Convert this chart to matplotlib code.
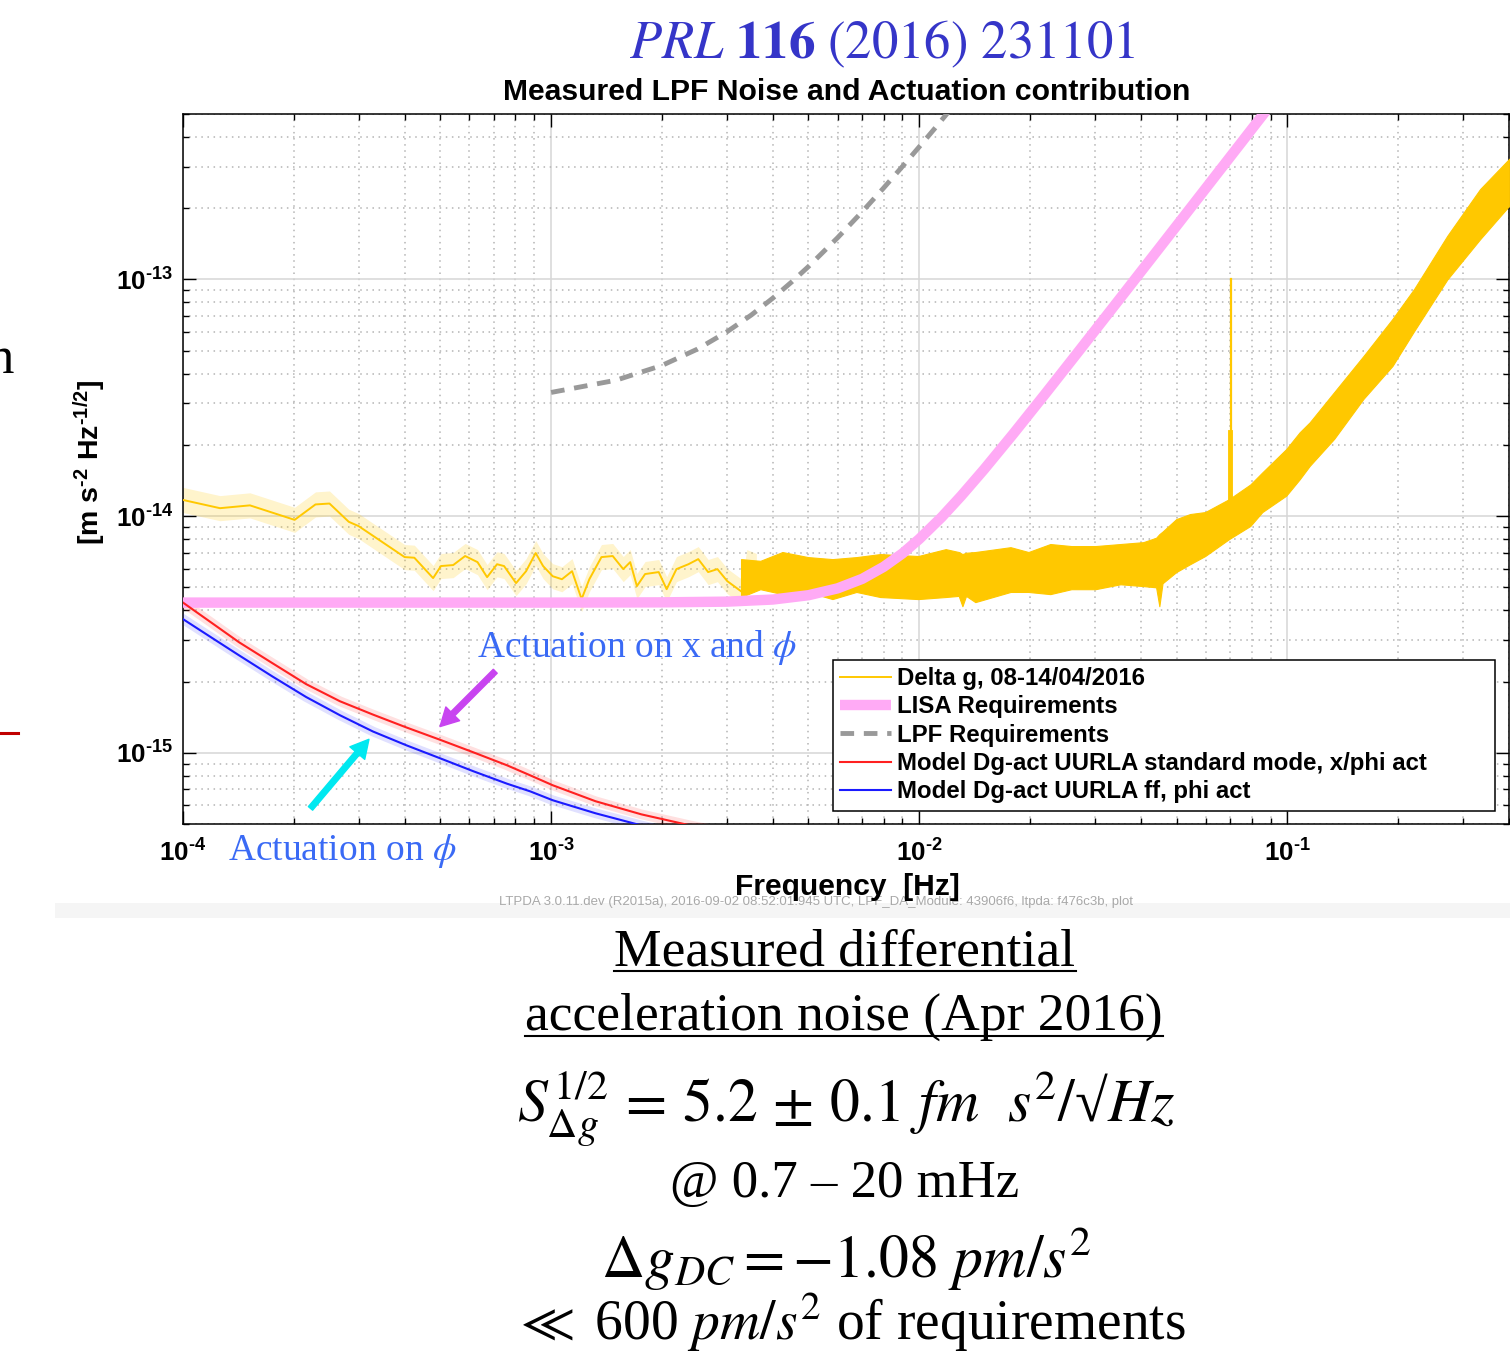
import numpy as np
import matplotlib
matplotlib.use("Agg")
import matplotlib.pyplot as plt
from matplotlib.lines import Line2D
from matplotlib.patches import Rectangle
from matplotlib.ticker import LogLocator, NullFormatter, FuncFormatter

plt.rcParams['font.family'] = ['Liberation Sans', 'DejaVu Sans']
plt.rcParams['mathtext.fontset'] = 'custom'
plt.rcParams['mathtext.rm'] = 'Liberation Sans'
plt.rcParams['mathtext.bf'] = 'Liberation Sans:bold'
plt.rcParams['mathtext.it'] = 'Liberation Sans:italic'

HY = '\u2010'  # short hyphen used in the MATLAB exponents

# --- data ----------------------------------------------------------------
# measured Delta g, low frequency part (single line with error band)
dg_f = np.array([1.00e-4, 1.26e-4, 1.52e-4, 2.01e-4, 2.29e-4, 2.50e-4, 2.82e-4, 3.00e-4,
                 4.00e-4, 4.25e-4, 4.78e-4, 5.02e-4, 5.42e-4, 5.84e-4, 6.31e-4, 6.70e-4,
                 7.13e-4, 7.45e-4, 8.03e-4, 8.55e-4, 9.08e-4, 9.51e-4, 1.01e-3, 1.07e-3,
                 1.14e-3, 1.21e-3, 1.27e-3, 1.37e-3, 1.47e-3, 1.57e-3, 1.64e-3, 1.71e-3,
                 1.80e-3, 1.96e-3, 2.06e-3, 2.19e-3, 2.36e-3, 2.51e-3, 2.67e-3, 2.83e-3,
                 3.01e-3, 3.30e-3, 3.40e-3, 3.61e-3])
dg_v = np.array([1.17e-14, 1.08e-14, 1.11e-14, 9.64e-15, 1.12e-14, 1.13e-14, 9.46e-15, 9.07e-15,
                 6.71e-15, 6.67e-15, 5.47e-15, 6.15e-15, 6.21e-15, 6.78e-15, 6.39e-15, 5.52e-15,
                 6.26e-15, 6.15e-15, 5.21e-15, 5.85e-15, 6.98e-15, 6.15e-15, 5.57e-15, 5.41e-15,
                 5.85e-15, 4.46e-15, 5.41e-15, 6.71e-15, 6.78e-15, 5.97e-15, 6.39e-15, 5.06e-15,
                 5.69e-15, 5.80e-15, 4.91e-15, 5.97e-15, 6.26e-15, 6.58e-15, 5.80e-15, 5.97e-15,
                 5.31e-15, 4.78e-15, 6.39e-15, 6.15e-15])

# measured Delta g, high frequency part (dense noisy trace: upper / lower envelope)
band_f = np.array([3.28e-3, 3.70e-3, 4.25e-3, 4.99e-3, 5.81e-3, 6.75e-3, 7.83e-3, 9.93e-3,
                   1.18e-2, 1.28e-2, 1.31e-2, 1.34e-2, 1.42e-2, 1.77e-2, 1.98e-2, 2.27e-2,
                   2.59e-2, 3.01e-2, 3.52e-2, 4.06e-2, 4.40e-2, 4.49e-2, 4.58e-2, 4.99e-2,
                   5.44e-2, 5.98e-2, 6.95e-2, 7.93e-2, 8.55e-2, 9.93e-2, 0.108, 0.115, 0.134,
                   0.161, 0.193, 0.221, 0.272, 0.334, 0.401])
band_hi = np.array([6.58e-15, 6.47e-15, 7.05e-15, 6.71e-15, 6.58e-15, 6.71e-15, 6.91e-15, 6.78e-15,
                    7.25e-15, 7.05e-15, 6.91e-15, 7.0e-15, 7.05e-15, 7.39e-15, 7.05e-15, 7.62e-15,
                    7.47e-15, 7.47e-15, 7.62e-15, 7.76e-15, 8.1e-15, 8.39e-15, 8.6e-15, 9.71e-15,
                    1.02e-14, 1.04e-14, 1.18e-14, 1.36e-14, 1.53e-14, 1.92e-14, 2.26e-14, 2.49e-14,
                    3.34e-14, 4.75e-14, 6.81e-14, 9.12e-14, 1.53e-13, 2.41e-13, 3.24e-13])
band_lo = np.array([4.55e-15, 4.91e-15, 4.68e-15, 4.78e-15, 4.46e-15, 4.78e-15, 4.55e-15, 4.46e-15,
                    4.55e-15, 4.6e-15, 4.16e-15, 4.6e-15, 4.33e-15, 4.78e-15, 4.78e-15, 4.68e-15,
                    4.91e-15, 4.91e-15, 5.15e-15, 5.06e-15, 5.0e-15, 4.16e-15, 5.2e-15, 5.80e-15,
                    6.26e-15, 6.78e-15, 8.00e-15, 9.08e-15, 1.04e-14, 1.22e-14, 1.43e-14, 1.63e-14,
                    2.12e-14, 3.13e-14, 4.31e-14, 6.05e-14, 1.00e-13, 1.48e-13, 2.05e-13])

# narrow line near 70 mHz
spike_f = [0.0703, 0.0703]
spike_v = [1.1e-14, 1.0e-13]
shoulder_f = [0.0700, 0.0700]
shoulder_v = [1.1e-14, 2.26e-14]

# LISA requirements
lisa_f = [1e-4, 1e-3, 2e-3, 3e-3, 4e-3, 5e-3, 6e-3, 7e-3, 8e-3, 9e-3, 1e-2, 1.15e-2, 1.3e-2,
          1.5e-2, 1.8e-2, 2.2e-2, 2.7e-2, 3.5e-2, 4.5e-2, 6e-2, 9e-2]
lisa_v = [4.31e-15, 4.31e-15, 4.32e-15, 4.35e-15, 4.44e-15, 4.63e-15, 4.95e-15, 5.43e-15,
          6.10e-15, 6.95e-15, 8.00e-15, 9.89e-15, 1.217e-14, 1.575e-14, 2.224e-14, 3.288e-14,
          4.93e-14, 8.26e-14, 1.364e-13, 2.425e-13, 5.46e-13]

# LPF requirements
lpf_f = [1.0e-3, 1.5e-3, 2.0e-3, 2.5e-3, 3.0e-3, 3.5e-3, 4.0e-3, 4.5e-3, 5.0e-3, 6.0e-3,
         7.0e-3, 8.0e-3, 9.0e-3, 1.0e-2, 1.1e-2, 1.2e-2]
lpf_v = [3.33e-14, 3.75e-14, 4.33e-14, 5.08e-14, 6.00e-14, 7.08e-14, 8.33e-14, 9.75e-14,
         1.133e-13, 1.50e-13, 1.933e-13, 2.433e-13, 3.00e-13, 3.633e-13, 4.33e-13, 5.10e-13]

# actuation models
red_f = [1.0e-4, 1.19e-4, 1.42e-4, 1.75e-4, 2.16e-4, 2.67e-4, 3.28e-4, 4.04e-4, 4.99e-4,
         6.14e-4, 7.59e-4, 8.77e-4, 1.01e-3, 1.32e-3, 1.76e-3, 2.39e-3, 3.47e-3]
red_v = [4.31e-15, 3.56e-15, 2.93e-15, 2.39e-15, 1.95e-15, 1.65e-15, 1.45e-15, 1.28e-15,
         1.135e-15, 1.005e-15, 8.85e-16, 8.03e-16, 7.29e-16, 6.24e-16, 5.49e-16, 4.93e-16, 4.39e-16]
blue_f = [1.0e-4, 1.19e-4, 1.42e-4, 1.75e-4, 2.16e-4, 2.67e-4, 3.28e-4, 4.04e-4, 4.99e-4,
          6.14e-4, 7.59e-4, 8.77e-4, 1.01e-3, 1.32e-3, 1.76e-3, 2.39e-3]
blue_v = [3.67e-15, 3.08e-15, 2.58e-15, 2.10e-15, 1.72e-15, 1.44e-15, 1.23e-15, 1.076e-15,
          9.48e-16, 8.36e-16, 7.40e-16, 6.87e-16, 6.30e-16, 5.55e-16, 4.93e-16, 4.39e-16]

labels = ['Delta g, 08-14/04/2016', 'LISA Requirements', 'LPF Requirements',
          'Model Dg-act UURLA standard mode, x/phi act', 'Model Dg-act UURLA ff, phi act']
footer = ('LTPDA 3.0.11.dev (R2015a), 2016-09-02 08:52:01.945 UTC, LPF_DA_Module: 43906f6, '
          'ltpda: f476c3b, plot')

W, H = 1510, 1361


def fx(px):
    return px / W


def fy(py):
    return 1 - py / H


def pow_label(v, pos):
    e = int(round(np.log10(v)))
    sign = HY if e < 0 else ''
    return r'$\mathbf{10^{' + sign + str(abs(e)) + '}}$'


fig = plt.figure(figsize=(W / 100, H / 100), dpi=100)
ax = fig.add_axes([fx(183), fy(824), (1509 - 183) / W, (824 - 114) / H])
ax.set_xscale('log')
ax.set_yscale('log')
ax.set_xlim(1e-4, 0.4)
ax.set_ylim(5e-16, 5e-13)

yellow = '#ffc800'
ax.fill_between(dg_f, dg_v / 1.13, dg_v * 1.13, color=yellow, alpha=0.2, lw=0, zorder=2)
h_dg, = ax.plot(dg_f, dg_v, color=yellow, lw=1.4, zorder=3)
ax.fill_between(band_f, band_lo, band_hi, color=yellow, lw=0.8, edgecolor=yellow, zorder=3)
ax.plot(spike_f, spike_v, color=yellow, lw=1.6, zorder=3)
ax.plot(shoulder_f, shoulder_v, color=yellow, lw=3.5, zorder=3)

h_lpf, = ax.plot(lpf_f, lpf_v, color='#999999', lw=3.5, dashes=(2.8, 2.0), zorder=4)
h_lisa, = ax.plot(lisa_f, lisa_v, color='#ffaaf5', lw=7.5, solid_capstyle='butt', zorder=5)

ax.plot(red_f, red_v, color='#ff3030', lw=7, alpha=0.15, zorder=4)
h_red, = ax.plot(red_f, red_v, color='#ff2020', lw=1.5, zorder=5)
ax.plot(blue_f, blue_v, color='#3030ff', lw=7, alpha=0.15, zorder=4)
h_blue, = ax.plot(blue_f, blue_v, color='#1a1aff', lw=1.5, zorder=5)

# grid / ticks in the MATLAB look
ax.set_axisbelow(True)
ax.grid(True, which='major', color='#d6d6d6', lw=1.1, ls='-')
ax.grid(True, which='minor', color='#b4b4b4', lw=1.1, ls=(0, (1, 3)))
for axis in (ax.xaxis, ax.yaxis):
    axis.set_major_locator(LogLocator(base=10, numticks=12))
    axis.set_minor_locator(LogLocator(base=10, subs=np.arange(2, 10), numticks=30))
    axis.set_minor_formatter(NullFormatter())
    axis.set_major_formatter(FuncFormatter(pow_label))
ax.tick_params(which='both', direction='in', top=True, right=True, width=1.0)
ax.tick_params(which='major', length=9.5, labelsize=18.8, pad=7)
ax.tick_params(axis='x', which='major', pad=11)
ax.tick_params(which='minor', length=4.5)
for s in ax.spines.values():
    s.set_linewidth(1.1)

leg = ax.legend([h_dg, h_lisa, h_lpf, h_red, h_blue], labels, loc='upper left',
                bbox_to_anchor=(fx(833), fy(808), fx(1495) - fx(833), fy(660) - fy(808)),
                bbox_transform=fig.transFigure, mode='expand', borderaxespad=0,
                fancybox=False, framealpha=1, edgecolor='black',
                prop=dict(weight='bold', size=17.3), handlelength=2.1,
                handletextpad=0.25, labelspacing=0.22, borderpad=0.3)
leg.get_frame().set_linewidth(1.1)
leg.set_zorder(10)

# annotations
blue_txt = '#3a6af5'
fig.text(fx(477), fy(657), r'Actuation on x and $\phi$', family='Liberation Serif',
         math_fontfamily='stix', fontsize=27, color=blue_txt, ha='left', va='baseline')
fig.text(fx(228), fy(860), r'Actuation on $\phi$', family='Liberation Serif',
         math_fontfamily='stix', fontsize=27, color=blue_txt, ha='left', va='baseline')
ax.annotate('', xy=(4.99e-4, 1.29e-15), xytext=(7.05e-4, 2.21e-15),
            arrowprops=dict(width=4, headwidth=14, headlength=13, color='#c844f0', shrink=0),
            zorder=8)
ax.annotate('', xy=(3.20e-4, 1.14e-15), xytext=(2.22e-4, 5.82e-16),
            arrowprops=dict(width=4, headwidth=14, headlength=13, color='#00e8f0', shrink=0),
            annotation_clip=False, zorder=8)

# labels and titles
fig.add_artist(Rectangle((fx(55), fy(918)), fx(1510) - fx(55), 15 / H, color='#f5f5f5',
                         lw=0, zorder=0))
fig.text(fx(882), fy(58), r'$\mathit{PRL}\ \mathbf{116}\ \mathrm{(2016)\ 231101}$',
         math_fontfamily='stix', fontsize=38, color='#3535c8', ha='center', va='baseline')
fig.text(fx(847), fy(100), 'Measured LPF Noise and Actuation contribution', weight='bold',
         fontsize=21.7, ha='center', va='baseline')
fig.text(fx(816), fy(905), footer, fontsize=9.5, color='#a8a8a8', ha='center', va='baseline',
         zorder=1)
fig.text(fx(847), fy(895), 'Frequency  [Hz]', weight='bold', fontsize=21.6, ha='center',
         va='baseline', zorder=2)
ylab = r'$\mathbf{[m\ s^{' + HY + r'2}\ Hz^{' + HY + r'1/2}]}$'
fig.text(fx(90), fy(462), ylab, fontsize=20.5, rotation=90, ha='center', va='center')

# slide text below the chart
serif = dict(family='Liberation Serif', math_fontfamily='stix', color='black', ha='center',
             va='baseline')
t1 = fig.text(fx(845), fy(965), 'Measured differential', fontsize=38.5, **serif)
t2 = fig.text(fx(844), fy(1030), 'acceleration noise (Apr 2016)', fontsize=38.5, **serif)
fig.text(fx(846), fy(1122),
         r'$S_{\Delta g}^{1/2} \,=\, 5.2 \,\pm\, 0.1\ fm\ \ s^2/$√$Hz$',
         fontsize=43, **serif)
fig.text(fx(845), fy(1197), '@ 0.7 – 20 mHz', fontsize=38, **serif)
fig.text(fx(846), fy(1277), r'$\Delta g_{DC} = -1.08\ pm/s^2$', fontsize=43, **serif)
fig.text(fx(849), fy(1340), r'$\ll$ 600 $pm/s^2$ of requirements', fontsize=40, **serif)

# bits of neighbouring slide content cut at the left edge
fig.text(fx(14), fy(373), 'n', fontsize=38, family='Liberation Serif', ha='right',
         va='baseline')
fig.add_artist(Line2D([0, fx(18)], [fy(733), fy(733)], color='#c00000', lw=2.2))

fig.canvas.draw()
for t, ypx in ((t1, 971), (t2, 1036)):
    bb = t.get_window_extent()
    fig.add_artist(Line2D([bb.x0 / W, bb.x1 / W], [fy(ypx), fy(ypx)], color='black', lw=1.5))

fig.savefig('out.png', dpi=100)
